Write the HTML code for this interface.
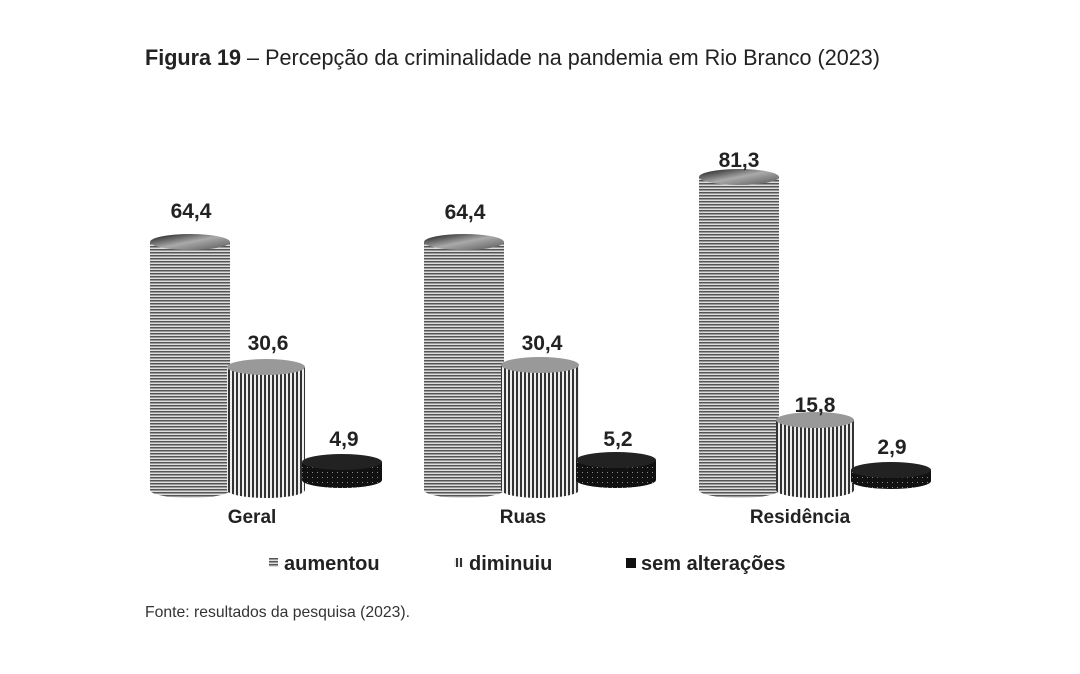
<!DOCTYPE html><html><head><style>body{margin:0;background:#fff}svg text{font-family:"Liberation Sans",sans-serif}</style></head><body>
<svg width="1080" height="669" xmlns="http://www.w3.org/2000/svg">
<defs>
<pattern id="h" width="3" height="3" patternUnits="userSpaceOnUse"><rect width="3" height="3" fill="#ddd"/><rect width="3" height="1.5" fill="#555"/></pattern>
<pattern id="v" width="4" height="4" patternUnits="userSpaceOnUse"><rect width="4" height="4" fill="#eee"/><rect width="2" height="4" fill="#333"/></pattern>
<pattern id="d" width="5" height="5" patternUnits="userSpaceOnUse"><rect width="5" height="5" fill="#111"/><rect x="2" y="2" width="1" height="1" fill="#888"/></pattern>
<linearGradient id="top" x1="0" y1="0" x2="1" y2="1"><stop offset="0" stop-color="#111"/><stop offset=".5" stop-color="#aaa"/><stop offset="1" stop-color="#555"/></linearGradient>
</defs>
<text x="145" y="65" font-size="22" fill="#222" textLength="735" lengthAdjust="spacingAndGlyphs"><tspan font-weight="bold">Figura 19</tspan> – Percepção da criminalidade na pandemia em Rio Branco (2023)</text>
<g>
<path d="M150 242 V490 A40 8 0 0 0 230 490 V242 Z" fill="url(#h)"/><ellipse cx="190" cy="242" rx="40" ry="8" fill="url(#top)"/>
<path d="M227 367 V490 A39 8 0 0 0 305 490 V367 Z" fill="url(#v)"/><ellipse cx="266" cy="367" rx="39" ry="8" fill="#999"/>
<path d="M302 462 V480 A40 8 0 0 0 382 480 V462 Z" fill="url(#d)"/><ellipse cx="342" cy="462" rx="40" ry="8" fill="#222"/>

<path d="M424 242 V490 A40 8 0 0 0 504 490 V242 Z" fill="url(#h)"/><ellipse cx="464" cy="242" rx="40" ry="8" fill="url(#top)"/>
<path d="M501 365 V490 A39 8 0 0 0 579 490 V365 Z" fill="url(#v)"/><ellipse cx="540" cy="365" rx="39" ry="8" fill="#999"/>
<path d="M576 460 V480 A40 8 0 0 0 656 480 V460 Z" fill="url(#d)"/><ellipse cx="616" cy="460" rx="40" ry="8" fill="#222"/>

<path d="M699 177 V490 A40 8 0 0 0 779 490 V177 Z" fill="url(#h)"/><ellipse cx="739" cy="177" rx="40" ry="8" fill="url(#top)"/>
<path d="M776 420 V490 A39 8 0 0 0 854 490 V420 Z" fill="url(#v)"/><ellipse cx="815" cy="420" rx="39" ry="8" fill="#999"/>
<path d="M851 470 V481 A40 8 0 0 0 931 481 V470 Z" fill="url(#d)"/><ellipse cx="891" cy="470" rx="40" ry="8" fill="#222"/>
</g>
<g font-size="21" font-weight="bold" fill="#222" text-anchor="middle">
<text x="191" y="218">64,4</text><text x="268" y="350">30,6</text><text x="344" y="446">4,9</text>
<text x="465" y="219">64,4</text><text x="542" y="350">30,4</text><text x="618" y="446">5,2</text>
<text x="739" y="167">81,3</text><text x="815" y="412">15,8</text><text x="892" y="454">2,9</text>
</g>
<g font-size="19" font-weight="bold" fill="#222" text-anchor="middle">
<text x="252" y="523">Geral</text><text x="523" y="523">Ruas</text><text x="800" y="523">Residência</text>
</g>
<g font-size="20" font-weight="bold" fill="#222">
<rect x="269" y="558" width="9" height="9" fill="url(#h)"/><text x="284" y="570">aumentou</text>
<rect x="454" y="558" width="9" height="9" fill="url(#v)"/><text x="469" y="570">diminuiu</text>
<rect x="626" y="558" width="10" height="10" fill="#111"/><text x="641" y="570">sem alterações</text>
</g>
<text x="145" y="617" font-size="16" fill="#333" textLength="265" lengthAdjust="spacingAndGlyphs">Fonte: resultados da pesquisa (2023).</text>
</svg></body></html>
